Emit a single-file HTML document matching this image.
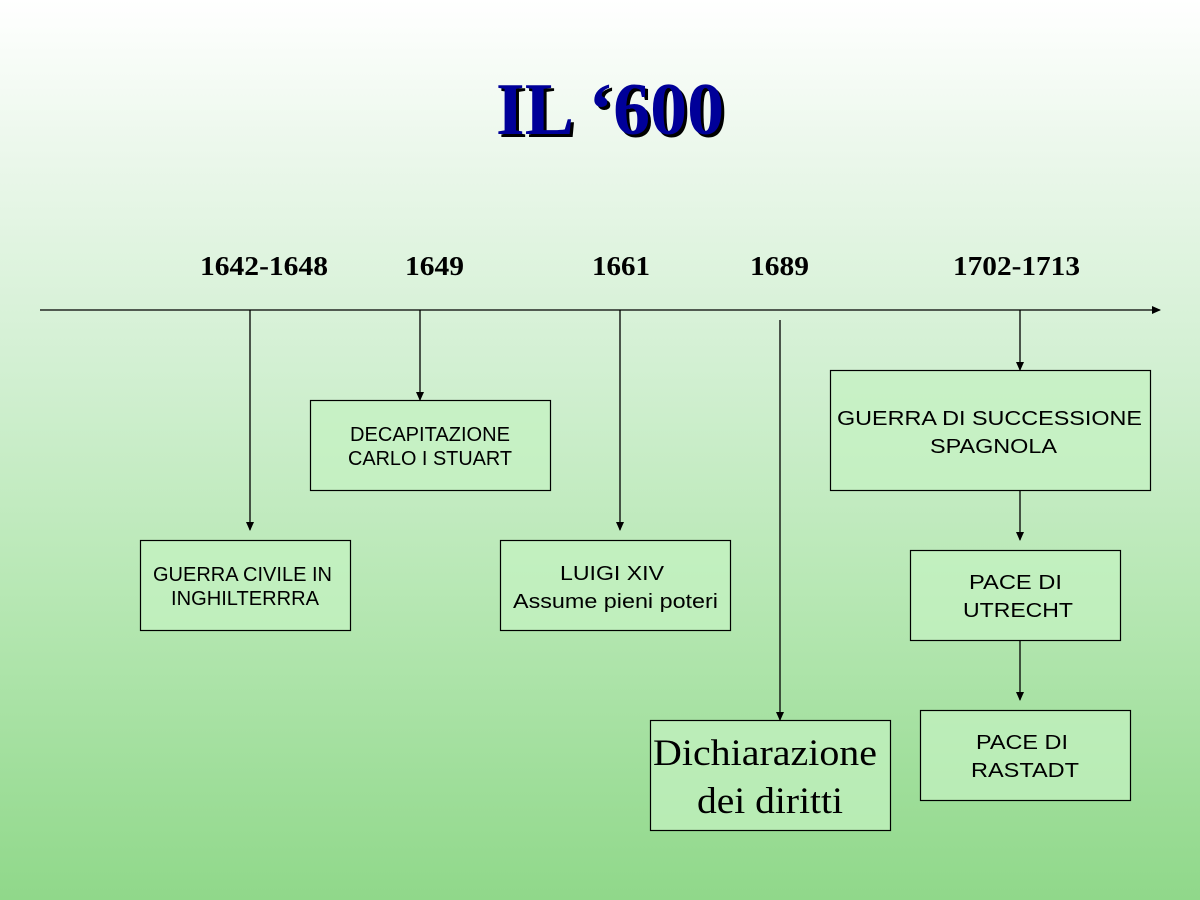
<!DOCTYPE html>
<html><head><meta charset="utf-8"><style>
html,body{margin:0;padding:0}
body{width:1200px;height:900px;overflow:hidden;background:linear-gradient(to bottom,#ffffff 0%,#eaf7ea 18%,#d3f0d3 40%,#b8e8b5 65%,#90d88a 100%)}
svg{display:block}
.s{font-family:"Liberation Sans",sans-serif;font-size:20px;fill:#000}
.y{font-family:"Liberation Serif",serif;font-weight:bold;font-size:27px;fill:#000}
</style></head><body>
<svg width="1200" height="900" xmlns="http://www.w3.org/2000/svg">
<defs><marker id="a" markerWidth="10" markerHeight="10" refX="8" refY="4" orient="auto" markerUnits="userSpaceOnUse"><path d="M0,0 L9,4 L0,8 z" fill="#000"/></marker></defs>
<text x="613" y="137" text-anchor="middle" font-family="Liberation Serif,serif" font-weight="bold" font-size="74" fill="#000">IL ‘600</text>
<text x="610" y="134" text-anchor="middle" font-family="Liberation Serif,serif" font-weight="bold" font-size="74" fill="#000099">IL ‘600</text>
<g lengthAdjust="spacingAndGlyphs">
<text class="y" x="200" y="275" textLength="128" lengthAdjust="spacingAndGlyphs">1642-1648</text>
<text class="y" x="405" y="275" textLength="59" lengthAdjust="spacingAndGlyphs">1649</text>
<text class="y" x="592" y="275" textLength="58" lengthAdjust="spacingAndGlyphs">1661</text>
<text class="y" x="750" y="275" textLength="59" lengthAdjust="spacingAndGlyphs">1689</text>
<text class="y" x="953" y="275" textLength="127" lengthAdjust="spacingAndGlyphs">1702-1713</text>
</g>
<g stroke="#000" stroke-width="1.3" fill="none" marker-end="url(#a)">
<line x1="40" y1="310" x2="1160" y2="310"/>
<line x1="250" y1="310" x2="250" y2="530"/>
<line x1="420" y1="310" x2="420" y2="400"/>
<line x1="620" y1="310" x2="620" y2="530"/>
<line x1="780" y1="320" x2="780" y2="720"/>
<line x1="1020" y1="310" x2="1020" y2="370"/>
<line x1="1020" y1="490" x2="1020" y2="540"/>
<line x1="1020" y1="640" x2="1020" y2="700"/>
</g>
<g fill="#c4f2c2" fill-opacity="0.7" stroke="#000" stroke-width="1.2">
<rect x="140.5" y="540.5" width="210" height="90"/>
<rect x="310.5" y="400.5" width="240" height="90"/>
<rect x="500.5" y="540.5" width="230" height="90"/>
<rect x="650.5" y="720.5" width="240" height="110"/>
<rect x="830.5" y="370.5" width="320" height="120"/>
<rect x="910.5" y="550.5" width="210" height="90"/>
<rect x="920.5" y="710.5" width="210" height="90"/>
</g>
<text class="s" x="153" y="581" font-size="19" textLength="179" lengthAdjust="spacingAndGlyphs">GUERRA CIVILE IN</text>
<text class="s" x="171" y="605" font-size="19" textLength="148" lengthAdjust="spacingAndGlyphs">INGHILTERRRA</text>
<text class="s" x="350" y="441" font-size="19" textLength="160" lengthAdjust="spacingAndGlyphs">DECAPITAZIONE</text>
<text class="s" x="348" y="465" font-size="19" textLength="164" lengthAdjust="spacingAndGlyphs">CARLO I STUART</text>
<text class="s" x="560" y="580" font-size="22" textLength="104" lengthAdjust="spacingAndGlyphs">LUIGI XIV</text>
<text class="s" x="513" y="608" font-size="22" textLength="205" lengthAdjust="spacingAndGlyphs">Assume pieni poteri</text>
<text x="653" y="765" font-family="Liberation Serif,serif" font-size="37" textLength="224" lengthAdjust="spacingAndGlyphs">Dichiarazione</text>
<text x="697" y="813" font-family="Liberation Serif,serif" font-size="37" textLength="146" lengthAdjust="spacingAndGlyphs">dei diritti</text>
<text class="s" x="837" y="425" font-size="22" textLength="305" lengthAdjust="spacingAndGlyphs">GUERRA DI SUCCESSIONE</text>
<text class="s" x="930" y="453" font-size="22" textLength="127" lengthAdjust="spacingAndGlyphs">SPAGNOLA</text>
<text class="s" x="969" y="589" font-size="22" textLength="93" lengthAdjust="spacingAndGlyphs">PACE DI</text>
<text class="s" x="963" y="617" font-size="22" textLength="110" lengthAdjust="spacingAndGlyphs">UTRECHT</text>
<text class="s" x="976" y="749" font-size="22" textLength="92" lengthAdjust="spacingAndGlyphs">PACE DI</text>
<text class="s" x="971" y="777" font-size="22" textLength="108" lengthAdjust="spacingAndGlyphs">RASTADT</text>
</svg>
</body></html>
